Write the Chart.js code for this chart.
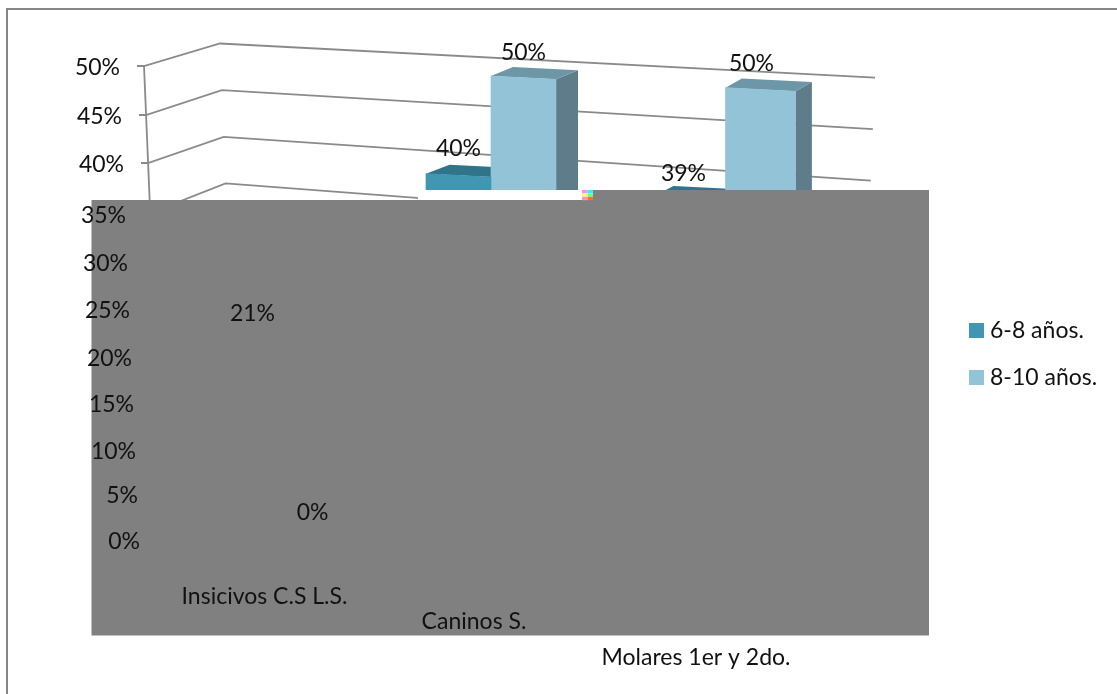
<!DOCTYPE html>
<html>
<head>
<meta charset="utf-8">
<title>Piezas por edad</title>
<script src="https://cdn.jsdelivr.net/npm/chart.js@4/dist/chart.umd.min.js"></script>
<style>
html, body { margin: 0; padding: 0; background: #fff; overflow: hidden; }
canvas { display: block; }
</style>
</head>
<body>
<canvas id="myChart" width="1117" height="694"></canvas>
<script>
const categories = ['Insicivos C.S L.S.', 'Caninos S.', 'Molares 1er y 2do.'];
const seriesNames = ['6-8 años.', '8-10 años.'];
const younger = [21, 40, 39];
const older = [0, 50, 50];
const yTicks = [50, 45, 40, 35, 30, 25, 20, 15, 10, 5, 0];

const frontColors = ['#4197b2', '#93c3d6'];
const topColors = ['#2f7489', '#6d96a7'];
const sideColors = ['#27606f', '#5e7c89'];
const noiseColors = ['#ff8cf0', '#30f0ff', '#f8ff60', '#60ff90', '#ff90c0', '#ff7030'];
const lineColor = '#8a8a8a';
const textColor = '#111';
const fontName = 'Lato, sans-serif';
const fontSize = 23;

// fake perspective: the floor runs downhill and nearer bars get wider
const slope = 0.05;
const stretch = 1.065;
const perspective = [0.89, 0.963, 1.037];
const categoryShift = [26, 0, 0];

// per tick correction of the value axis, axis is not quite even on screen
const tickShift = [0, 1.6, 2.2, 5, 6.4, 6, 6, 5, 4, 1.4, 0];

// how far each value label sits from the top of its bar
const labelLift = [[43, 27, 23], [59, 25.5, 26]];
const labelSide = [[0, 0, -7], [0, 0, -9]];

// staggered category labels
const catOffsetX = [8, -17, -29.5];
const catLabelY = [597, 622, 658];

function sheared(ctx, top) {
    ctx.transform(1, slope, 0, stretch, 0, top * (1 - stretch) - slope * 145 - 8.3);
}

// top and right faces of the bars, the front is the regular bar element
function drawFaces(chart) {
    const ctx = chart.ctx;
    [0, 1].forEach(d => {
        chart.getDatasetMeta(d).data.forEach(bar => {
            const left = bar.x - bar.width / 2;
            const right = left + bar.width;
            const dx = 22 - (right - 556) * 0.0235;
            const dy = -9.5;
            ctx.fillStyle = sideColors[d];
            ctx.beginPath();
            ctx.moveTo(right, bar.y);
            ctx.lineTo(right + dx, bar.y + dy);
            ctx.lineTo(right + dx, bar.base + dy);
            ctx.lineTo(right, bar.base);
            ctx.closePath();
            ctx.fill();
            ctx.fillStyle = topColors[d];
            ctx.beginPath();
            ctx.moveTo(left, bar.y);
            ctx.lineTo(left + dx, bar.y + dy);
            ctx.lineTo(right + dx, bar.y + dy);
            ctx.lineTo(right, bar.y);
            ctx.closePath();
            ctx.fill();
        });
    });
}

// back wall with side wall, one bent line per tick
function drawWalls(chart) {
    const ctx = chart.ctx;
    const y = chart.scales.y;
    ctx.strokeStyle = lineColor;
    ctx.lineWidth = 1.8;
    yTicks.forEach((v, i) => {
        const step = 50 - v;
        const py = y.getPixelForValue(v) + tickShift[i];
        ctx.beginPath();
        ctx.moveTo(137 + step * 0.4, py - 1);
        ctx.lineTo(144 + step * 0.4, py - 1);
        ctx.lineTo(220 + step * 0.37, 43.5 + step * 9.33);
        ctx.lineTo(875 - step * 0.43, 77.7 + step * 10.3);
        ctx.stroke();
    });
    ctx.beginPath();
    ctx.moveTo(144, y.getPixelForValue(50) - 1);
    ctx.lineTo(144 + 20, y.getPixelForValue(0) - 1);
    ctx.stroke();
}

const wallsAndShear = {
    id: 'wallsAndShear',
    beforeDraw(chart) {
        const ctx = chart.ctx;
        ctx.save();
        ctx.fillStyle = '#fff';
        ctx.fillRect(0, 0, chart.width, chart.height);
        ctx.strokeStyle = '#868686';
        ctx.lineWidth = 2;
        ctx.beginPath();
        ctx.moveTo(7, chart.height);
        ctx.lineTo(7, 9);
        ctx.lineTo(chart.width, 9);
        ctx.stroke();
        ctx.restore();
    },
    afterLayout(chart) {
        const legend = chart.legend;
        legend.left = 950.5;
        legend.right = 1117;
        legend.top = 295;
        legend.bottom = 500;
    },
    afterDatasetsUpdate(chart) {
        const x = chart.scales.x;
        [0, 1].forEach(d => {
            chart.getDatasetMeta(d).data.forEach((bar, i) => {
                const c = x.getPixelForValue(i);
                bar.x = c + categoryShift[i] + (bar.x - c) * perspective[i];
                bar.width = bar.width * perspective[i];
            });
        });
    },
    beforeDatasetsDraw(chart) {
        const ctx = chart.ctx;
        ctx.save();
        drawWalls(chart);
        ctx.restore();
        ctx.save();
        sheared(ctx, chart.chartArea.top);
        drawFaces(chart);
    },
    afterDatasetsDraw(chart) {
        const ctx = chart.ctx;
        ctx.restore();
        ctx.save();
        // flat grey block over the lower part of the plot
        ctx.fillStyle = '#808080';
        ctx.fillRect(91.5, 200, 837.5, 435.5);
        ctx.fillRect(593, 190, 336, 10);
        ctx.fillStyle = '#fff';
        ctx.fillRect(418, 190, 175, 10);
        // speckled bit at the end of the white strip
        noiseColors.forEach((c, i) => {
            ctx.fillStyle = c;
            ctx.fillRect(582 + (i % 2) * 5.5, 190 + Math.floor(i / 2) * 3.4, 5.5, 3.4);
        });
        ctx.restore();
    },
    afterDraw(chart) {
        const ctx = chart.ctx;
        const y = chart.scales.y;
        const x = chart.scales.x;
        const top = chart.chartArea.top;
        ctx.save();
        ctx.font = fontSize + 'px ' + fontName;
        ctx.fillStyle = textColor;
        ctx.textBaseline = 'middle';

        ctx.textAlign = 'right';
        yTicks.forEach((v, i) => {
            ctx.fillText(v + '%', 120 + (50 - v) * 0.4, y.getPixelForValue(v) + tickShift[i] + 1);
        });

        ctx.textAlign = 'center';
        categories.forEach((name, i) => {
            ctx.fillText(name, x.getPixelForValue(i) + catOffsetX[i], catLabelY[i]);
        });

        [younger, older].forEach((values, d) => {
            chart.getDatasetMeta(d).data.forEach((bar, i) => {
                const sy = top + (bar.y - top) * stretch + slope * (bar.x - 145) - 8.3;
                ctx.fillText(values[i] + '%', bar.x + labelSide[d][i], sy - labelLift[d][i]);
            });
        });
        ctx.restore();
    }
};

new Chart(document.getElementById('myChart'), {
    type: 'bar',
    data: {
        labels: categories,
        datasets: [
            { label: seriesNames[0], data: younger, backgroundColor: frontColors[0], borderWidth: 0, clip: false },
            { label: seriesNames[1], data: older, backgroundColor: frontColors[1], borderWidth: 0, clip: false }
        ]
    },
    options: {
        responsive: false,
        animation: false,
        layout: { padding: { left: 139.25, right: 274.25, top: 67, bottom: 153 } },
        datasets: { bar: { barThickness: 67.5 } },
        scales: {
            x: {
                grid: { display: false, drawTicks: false },
                border: { display: false },
                ticks: { display: false }
            },
            y: {
                min: 0,
                max: 50,
                grid: { display: false, drawTicks: false },
                border: { display: false },
                ticks: { display: false, stepSize: 5 }
            }
        },
        plugins: {
            title: { display: false },
            tooltip: { enabled: false },
            legend: {
                position: 'chartArea',
                align: 'start',
                labels: {
                    // small box with a thick outline, keeps the text close to the square
                    boxWidth: 4,
                    boxHeight: 4,
                    padding: 24,
                    color: textColor,
                    font: { family: fontName, size: fontSize },
                    generateLabels(chart) {
                        const items = Chart.defaults.plugins.legend.labels.generateLabels(chart);
                        items.forEach(item => {
                            item.lineWidth = 11;
                            item.strokeStyle = item.fillStyle;
                        });
                        return items;
                    }
                }
            }
        }
    },
    plugins: [wallsAndShear]
});
</script>
</body>
</html>
